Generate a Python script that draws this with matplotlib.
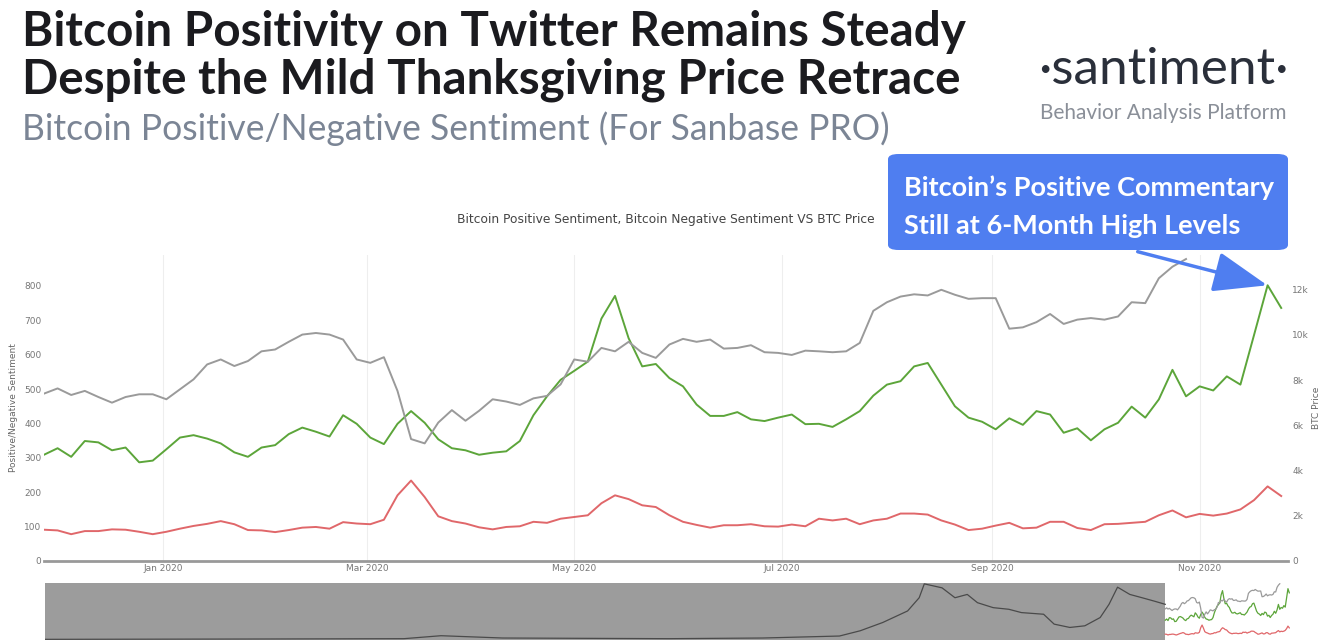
import pandas as pd
import numpy as np
import matplotlib
matplotlib.use('Agg')
import matplotlib.pyplot as plt
import matplotlib.dates as mdates
from matplotlib.patches import FancyBboxPatch, FancyArrowPatch
from matplotlib.ticker import FuncFormatter

# Sentiment / price readings, one value every 4 days from 2019-11-27
start_date = '2019-11-27'
positive = [309, 328, 303, 349, 345, 322, 330, 287, 292, 325, 359, 366, 356, 342, 316, 303,
            330, 337, 369, 388, 376, 362, 424, 399, 359, 340, 399, 436, 402, 354, 328,
            322, 309, 315, 319, 349, 424, 479, 527, 553, 580, 705, 771, 648, 566, 573, 532,
            508, 455, 422, 422, 433, 412, 407, 417, 426, 398, 399, 390, 412, 436, 481,
            513, 523, 566, 576, 513, 450, 417, 405, 383, 415, 396, 436, 426, 373, 386, 351,
            383, 402, 449, 417, 470, 556, 479, 508, 496, 537, 513, 657, 802, 736]
negative = [91, 89, 78, 87, 87, 92, 91, 85, 78, 85, 94, 102, 108, 116, 107, 90,
            89, 84, 90, 97, 99, 94, 113, 109, 107, 120, 191, 234, 186, 130, 116,
            109, 98, 92, 99, 101, 114, 111, 123, 128, 133, 168, 191, 180, 162, 157, 133,
            114, 105, 97, 104, 104, 107, 101, 100, 106, 101, 123, 118, 123, 107, 118,
            123, 138, 138, 135, 118, 106, 90, 94, 103, 111, 95, 97, 114, 114, 96, 90,
            107, 108, 111, 114, 133, 147, 127, 137, 132, 138, 150, 177, 217, 189]
btc_price = [7400, 7630, 7340, 7520, 7250, 7000, 7250, 7370, 7370, 7150, 7590, 8030, 8690, 8910, 8620, 8840,
             9270, 9350, 9690, 10010, 10080, 10010, 9790, 8910, 8760, 9010, 7520, 5390, 5200, 6120, 6670,
             6200, 6640, 7150, 7050, 6900, 7190, 7300, 7810, 8910, 8810, 9420, 9270, 9690, 9200, 8980, 9570,
             9820, 9690, 9790, 9390, 9420, 9540, 9230, 9200, 9110, 9300, 9270, 9230, 9270, 9640, 11060,
             11440, 11690, 11790, 11740, 11990, 11770, 11590, 11620, 11620, 10270, 10330, 10560, 10920, 10480, 10670, 10740,
             10670, 10810, 11440, 11400, 12500, 13010, 13350]

# long history price shown in the range navigator
nav_dates = ['2010-11-27', '2012-07-15', '2013-10-15', '2014-02-01', '2014-08-01', '2015-12-01',
             '2016-09-01', '2017-04-15', '2017-06-15', '2017-08-20', '2017-11-01', '2017-12-05',
             '2017-12-20', '2018-02-10', '2018-03-20', '2018-04-25', '2018-05-25', '2018-07-10',
             '2018-08-25', '2018-10-01', '2018-12-05', '2019-01-05', '2019-02-20', '2019-04-05',
             '2019-05-20', '2019-06-15', '2019-07-10', '2019-08-15', '2019-09-20', '2019-10-25',
             '2019-11-27']
nav_price = [230, 340, 460, 1490, 690, 460, 690, 1380, 3210, 6080, 10090, 14680,
             19500, 18120, 14680, 15830, 12960, 11240, 10670, 9520, 8950, 5510, 4360, 4930,
             7800, 12390, 18350, 15830, 14680, 13530, 12390]

month_ticks = ['2020-01-01', '2020-03-01', '2020-05-01', '2020-07-01', '2020-09-01', '2020-11-01']
price_ticks = [0, 2000, 4000, 6000, 8000, 10000, 12000]

dates = pd.date_range(start_date, periods=len(positive), freq='4D')
price_dates = dates[:len(btc_price)]
nav_dates = pd.to_datetime(nav_dates)

GREEN = '#5ca53a'
RED = '#e0676a'
GREY = '#9a9a9a'
BLUE = '#4f7ef0'
W, H = 1320, 640

def px(x0, y0, x1, y1):
    # pixel box (top-left origin) -> figure fraction rect
    return [x0 / W, 1 - y1 / H, (x1 - x0) / W, (y1 - y0) / H]

fig = plt.figure(figsize=(13.2, 6.4), dpi=100)
fig.patch.set_facecolor('white')

# headline texts
fig.text(22 / W, 1 - 46 / H, 'Bitcoin Positivity on Twitter Remains Steady',
         family='Lato', weight='bold', fontsize=34.3, color='#1b1b1f')
fig.text(22 / W, 1 - 93 / H, 'Despite the Mild Thanksgiving Price Retrace',
         family='Lato', weight='bold', fontsize=34.3, color='#1b1b1f')
fig.text(22 / W, 1 - 140 / H, 'Bitcoin Positive/Negative Sentiment (For Sanbase PRO)',
         family='Lato', fontsize=25.6, color='#7b8595')
fig.text(1163 / W, 1 - 84 / H, '\u00b7santiment\u00b7', family='Lato',
         fontsize=37, color='#2a2f3a', ha='center')
fig.text(1163 / W, 1 - 119 / H, 'Behavior Analysis Platform', family='Lato',
         fontsize=15, color='#8a8f98', ha='center')

# main chart
ax = fig.add_axes(px(44, 255, 1288, 561))
ax.plot(dates, positive, color=GREEN, lw=1.4, zorder=3)
ax.plot(dates, negative, color=RED, lw=1.4, zorder=3)
ax.set_ylim(0, 890)
ax.set_xlim(pd.Timestamp('2019-11-27'), pd.Timestamp('2020-11-27'))
ax.set_yticks([0, 100, 200, 300, 400, 500, 600, 700, 800])
ax.set_xticks(pd.to_datetime(month_ticks))
ax.xaxis.set_major_formatter(mdates.DateFormatter('%b %Y'))
ax.grid(axis='x', color='#eeeeee', lw=0.8)
ax.tick_params(axis='both', length=0, labelsize=6.5, labelcolor='#777777', pad=2)
for s in ['top', 'right', 'left']:
    ax.spines[s].set_visible(False)
ax.spines['bottom'].set_color('#999999')
ax.spines['bottom'].set_linewidth(2)
ax.set_ylabel('Positive/Negative Sentiment', fontsize=6.5, color='#666666', labelpad=4)

ax2 = ax.twinx()
ax2.plot(price_dates, btc_price, color=GREY, lw=1.4, zorder=2)
ax2.set_ylim(0, 890 * 15.2)
ax2.set_yticks(price_ticks)
ax2.yaxis.set_major_formatter(FuncFormatter(lambda v, p: '0' if v == 0 else f'{int(v / 1000)}k'))
ax2.tick_params(axis='y', length=0, labelsize=6.5, labelcolor='#777777', pad=3)
for s in ax2.spines.values():
    s.set_visible(False)
ax2.set_ylabel('BTC Price', fontsize=6.5, color='#666666')
ax2.yaxis.set_label_coords((1312 - 44) / 1244, 0.5)

ax.set_title('Bitcoin Positive Sentiment, Bitcoin Negative Sentiment VS BTC Price',
             fontsize=8.8, color='#444444', pad=23)

# navigator strip
nav = fig.add_axes(px(45, 583, 1290, 640))
nav.axvspan(pd.Timestamp('2010-11-27'), pd.Timestamp('2019-11-27'), color='#9c9c9c', lw=0, zorder=0)
nav.plot(nav_dates, nav_price, color='#4a4a4a', lw=0.9, zorder=2)
nav.set_xlim(pd.Timestamp('2010-11-27'), pd.Timestamp('2020-11-27'))
nav.set_ylim(0, 19800)
nav.axis('off')
nav_s = nav.twinx()
nav_s.plot(dates, positive, color=GREEN, lw=0.9)
nav_s.plot(dates, negative, color=RED, lw=0.9)
nav_s.set_ylim(0, 890)
nav_s.axis('off')
nav_p = nav.twinx()
nav_p.plot(price_dates, btc_price, color=GREY, lw=0.9)
nav_p.set_ylim(0, 890 * 15.2)
nav_p.axis('off')

# callout
box = FancyBboxPatch((888 / W, 1 - 250 / H), 400 / W, 96 / H,
                     boxstyle='round,pad=0,rounding_size=0.008', transform=fig.transFigure,
                     fc=BLUE, ec='none', zorder=5)
fig.patches.append(box)
fig.text(904 / W, 1 - 188 / H, 'Bitcoin\u2019s Positive Commentary', family='Lato', weight='bold',
         fontsize=19.5, color='white', va='center', zorder=6)
fig.text(904 / W, 1 - 226 / H, 'Still at 6-Month High Levels', family='Lato', weight='bold',
         fontsize=19.5, color='white', va='center', zorder=6)
arrow = FancyArrowPatch((1135 / W, 1 - 251 / H), (1270 / W, 1 - 286 / H), transform=fig.transFigure,
                        arrowstyle='-|>,head_length=2.4,head_width=0.9', mutation_scale=14,
                        color=BLUE, lw=2.5, zorder=6)
fig.patches.append(arrow)

fig.savefig('out.png', dpi=100)
